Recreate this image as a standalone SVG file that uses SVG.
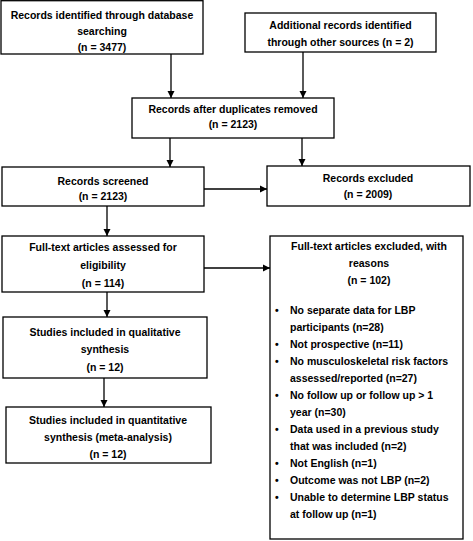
<svg xmlns="http://www.w3.org/2000/svg" width="473" height="541" viewBox="0 0 473 541">
<style>
.box{fill:#fff;stroke:#000;stroke-width:1.3}
.t{font-family:"Liberation Sans",Arial,sans-serif;font-weight:bold;font-size:10.5px;fill:#000}
.c{text-anchor:middle}
.ln{stroke:#000;stroke-width:1.3;fill:none;marker-end:url(#ah)}
</style>
<defs>
<marker id="ah" markerWidth="8" markerHeight="8" refX="7" refY="4" orient="auto" markerUnits="userSpaceOnUse">
<path d="M0,0.5 L7,4 L0,7.5 Z" fill="#000"/>
</marker>
</defs>
<rect width="473" height="541" fill="#fff"/>
<g id="connectors">
<line class="ln" x1="171" y1="54" x2="171" y2="98"/>
<line class="ln" x1="303" y1="52" x2="303" y2="98"/>
<line class="ln" x1="170" y1="138" x2="170" y2="167"/>
<line class="ln" x1="302" y1="138" x2="302" y2="166"/>
<line class="ln" x1="204" y1="189" x2="267" y2="189"/>
<line class="ln" x1="107" y1="206" x2="107" y2="236"/>
<line class="ln" x1="204" y1="268" x2="270" y2="268"/>
<line class="ln" x1="107" y1="292" x2="107" y2="317"/>
<line class="ln" x1="104" y1="378" x2="104" y2="407"/>
</g>
<g id="n1">
<rect class="box" x="1" y="0.7" width="202" height="53.3"/>
<text class="t c" x="102" y="19">Records identified through database</text>
<text class="t c" x="102" y="35">searching</text>
<text class="t c" x="102" y="51">(n = 3477)</text>
</g>
<g id="n2">
<rect class="box" x="245" y="13" width="191" height="39"/>
<text class="t c" x="340.5" y="29">Additional records identified</text>
<text class="t c" x="340.5" y="46">through other sources (n = 2)</text>
</g>
<g id="n3">
<rect class="box" x="132" y="98" width="202" height="40"/>
<text class="t c" x="233" y="113">Records after duplicates removed</text>
<text class="t c" x="233" y="128">(n = 2123)</text>
</g>
<g id="n4">
<rect class="box" x="2" y="167" width="202" height="39"/>
<text class="t c" x="103" y="185">Records screened</text>
<text class="t c" x="103" y="200">(n = 2123)</text>
</g>
<g id="n5">
<rect class="box" x="267" y="166" width="203" height="40"/>
<text class="t c" x="368" y="182">Records excluded</text>
<text class="t c" x="368" y="198">(n = 2009)</text>
</g>
<g id="n6">
<rect class="box" x="2" y="236" width="202" height="56"/>
<text class="t c" x="103" y="251">Full-text articles assessed for</text>
<text class="t c" x="103" y="269">eligibility</text>
<text class="t c" x="103" y="287">(n = 114)</text>
</g>
<g id="n7">
<rect class="box" x="270" y="236" width="193" height="303"/>
<text class="t c" x="369" y="250">Full-text articles excluded, with</text>
<text class="t c" x="369" y="267">reasons</text>
<text class="t c" x="369" y="284">(n = 102)</text>
<g class="t">
<text x="275" y="314">•</text><text x="290" y="314">No separate data for LBP</text>
<text x="290" y="331">participants (n=28)</text>
<text x="275" y="348">•</text><text x="290" y="348">Not prospective (n=11)</text>
<text x="275" y="365">•</text><text x="290" y="365">No musculoskeletal risk factors</text>
<text x="290" y="382">assessed/reported (n=27)</text>
<text x="275" y="399">•</text><text x="290" y="399">No follow up or follow up &gt; 1</text>
<text x="290" y="416">year (n=30)</text>
<text x="275" y="433">•</text><text x="290" y="433">Data used in a previous study</text>
<text x="290" y="450">that was included (n=2)</text>
<text x="275" y="467">•</text><text x="290" y="467">Not English (n=1)</text>
<text x="275" y="484">•</text><text x="290" y="484">Outcome was not LBP (n=2)</text>
<text x="275" y="501">•</text><text x="290" y="501">Unable to determine LBP status</text>
<text x="290" y="518">at follow up (n=1)</text>
</g>
</g>
<g id="n8">
<rect class="box" x="3" y="317" width="204" height="61"/>
<text class="t c" x="105" y="336">Studies included in qualitative</text>
<text class="t c" x="105" y="353">synthesis</text>
<text class="t c" x="105" y="371">(n = 12)</text>
</g>
<g id="n9">
<rect class="box" x="6" y="407" width="205" height="56"/>
<text class="t c" x="108" y="424">Studies included in quantitative</text>
<text class="t c" x="108" y="441">synthesis (meta-analysis)</text>
<text class="t c" x="108" y="458">(n = 12)</text>
</g>
</svg>
